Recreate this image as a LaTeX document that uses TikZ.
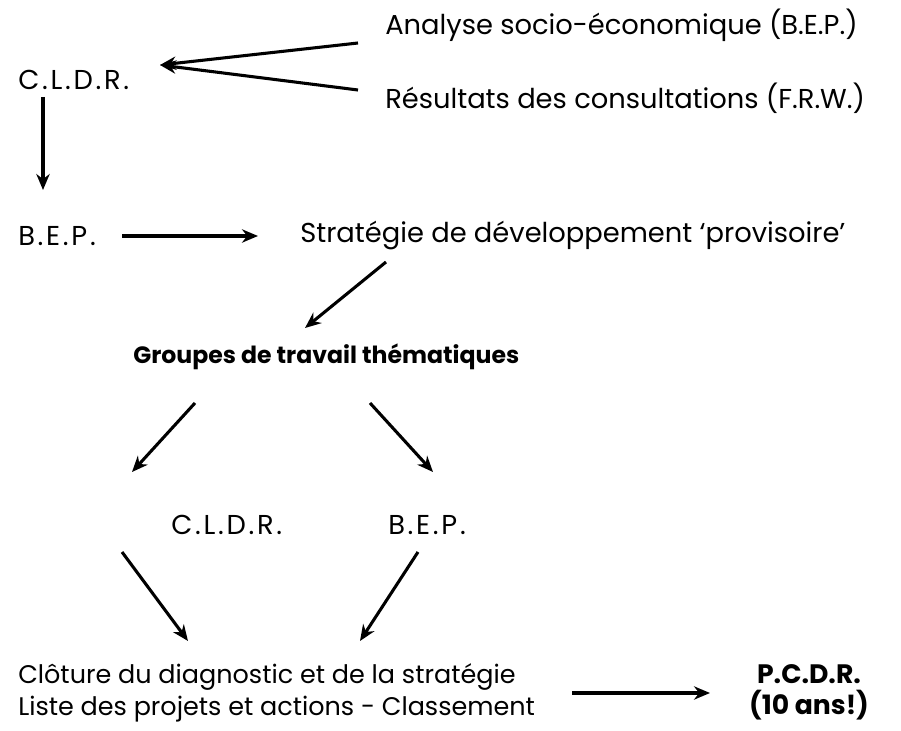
\documentclass[tikz,border=0pt]{standalone}
\usepackage{fontspec}
\setmainfont{Poppins}
\usetikzlibrary{arrows.meta}
\tikzset{
  txt/.style={anchor=west,inner sep=0pt,font=\fontsize{20.5}{23.5}\selectfont},
  sigle/.style={txt,font=\fontsize{20.5}{23.5}\selectfont\addfontfeature{LetterSpace=10}},
  btxt/.style={anchor=west,inner sep=0pt,font=\fontsize{17.7}{23.5}\selectfont\bfseries},
  fleche/.style={line width=2.3pt,-{Stealth[length=12pt,width=10pt]}}
}
\begin{document}
\begin{tikzpicture}[x=0.75pt,y=-0.75pt]
  \useasboundingbox (0,0) rectangle (901,731);
  % premiere ligne
  \node[sigle] (cldrA) at (18,80) {C.L.D.R.};
  \node[txt] (analyse) at (385,25) {Analyse socio-économique (B.E.P.)};
  \node[txt] (resultats) at (385,98) {Résultats des consultations (F.R.W.)};
  \coordinate (cA) at (160,65);
  \coordinate (a1) at (358,43);
  \coordinate (a2) at (358,90);
  \draw[fleche] (a1) -- (cA);
  \draw[fleche] (a2) -- (cA);
  % B.E.P. et strategie
  \node[sigle] (bepA) at (18,236) {B.E.P.};
  \node[txt] (strat) at (300,236) {Stratégie de développement ‘provisoire’};
  \coordinate (c1) at (43,97);
  \coordinate (c2) at (43,190);
  \draw[fleche] (c1) -- (c2);
  \coordinate (b1) at (122,236);
  \coordinate (b2) at (258,236);
  \draw[fleche] (b1) -- (b2);
  \coordinate (s1) at (386,262);
  \coordinate (s2) at (305,328);
  \draw[fleche] (s1) -- (s2);
  % groupes
  \node[btxt] (groupes) at (133,357) {Groupes de travail thématiques};
  \coordinate (g1) at (195,403);
  \coordinate (g2) at (132,472);
  \coordinate (g3) at (370,403);
  \coordinate (g4) at (433,472);
  \draw[fleche] (g1) -- (g2);
  \draw[fleche] (g3) -- (g4);
  \node[sigle] (cldrB) at (171,525) {C.L.D.R.};
  \node[sigle] (bepB) at (388,525) {B.E.P.};
  \coordinate (d1) at (122,552);
  \coordinate (d2) at (188,641);
  \coordinate (d3) at (418,552);
  \coordinate (d4) at (360,641);
  \draw[fleche] (d1) -- (d2);
  \draw[fleche] (d3) -- (d4);
  % cloture
  \node[txt,align=left,font=\fontsize{19.1}{23.5}\selectfont] (cloture) at (18,693) {Clôture du diagnostic et de la stratégie\\Liste des projets et actions - Classement};
  \node[btxt,anchor=center,align=center,font=\fontsize{20}{23.5}\selectfont\bfseries] (pcdr) at (809,692) {P.C.D.R.\\(10 ans!)};
  \coordinate (e1) at (572,693);
  \coordinate (e2) at (710,693);
  \draw[fleche] (e1) -- (e2);
\end{tikzpicture}
\end{document}
